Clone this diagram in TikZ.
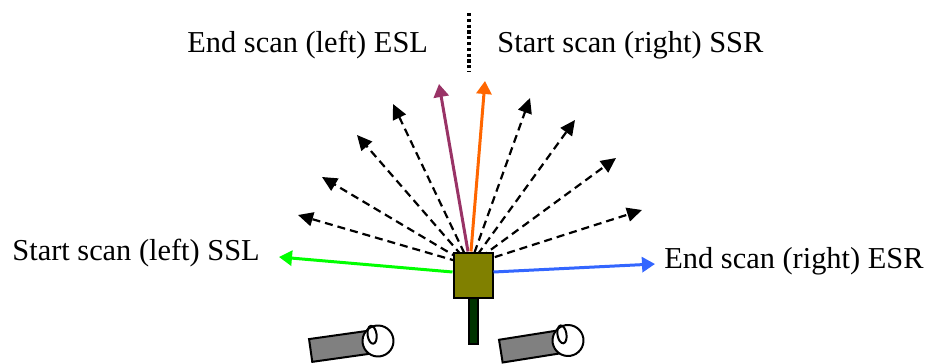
\documentclass[tikz,border=0pt]{standalone}
\usepackage{fontspec}
\setmainfont{Liberation Serif}
\usetikzlibrary{arrows.meta}
\definecolor{sslgreen}{RGB}{0,255,0}
\definecolor{esrblue}{RGB}{51,102,255}
\definecolor{eslpurple}{RGB}{153,51,102}
\definecolor{ssrorange}{RGB}{255,102,0}
\definecolor{headolive}{RGB}{128,128,0}
\definecolor{poledark}{RGB}{0,51,0}

\begin{document}
\begin{tikzpicture}[x=0.5pt,y=-0.5pt]
\tikzset{
  label/.style={inner sep=0pt, anchor=base west, font=\fontsize{15.2}{18}\selectfont},
  ray/.style={dashed, dash pattern=on 4pt off 2.5pt, line width=1.1pt, -{Triangle[length=7.5pt,width=7pt]}},
  scan/.style={line width=1.5pt, -{Triangle[length=6.5pt,width=7.5pt]}},
  head/.style={draw, line width=1pt, fill=headolive, inner sep=0pt, minimum width=19.5pt, minimum height=22.5pt}
}
\useasboundingbox (0,0) rectangle (933,364);
\clip (0,0) rectangle (933,364);

\node[label] (esl) at (187,53) {End scan (left) ESL};
\node[label] (ssr) at (497,53) {Start scan (right) SSR};
\node[label] (ssl) at (12,260) {Start scan (left) SSL};
\node[label] (esr) at (664,268) {End scan (right) ESR};

% divider between the two top labels
\coordinate (dtop) at (469,13);
\coordinate (dbot) at (469,72);
\draw[line width=1.8pt, dash pattern=on 1.6pt off 1.3pt] (dtop) -- (dbot);

% pole under the scanner head
\node[draw, line width=1pt, fill=poledark, inner sep=0pt, minimum width=4.3pt, minimum height=23pt] (pole) at (473.3,321) {};

% intermediate scan directions
\coordinate (o) at (470,265);
\coordinate (l1) at (298,215);
\coordinate (l2) at (322,177);
\coordinate (l3) at (357,135);
\coordinate (l4) at (393,104);
\coordinate (r1) at (530,98);
\coordinate (r2) at (575,120);
\coordinate (r3) at (616,158);
\coordinate (r4) at (642,210);
\foreach \to in {l1,l2,l3,l4,r1,r2,r3,r4}
{
	\draw[ray] (o) -- (\to);
}

\node[head] (cam) at (473,275) {};

\coordinate (sslTip) at (279,257);
\coordinate (esrTip) at (655,264);
\coordinate (eslTip) at (439,84);
\coordinate (ssrTip) at (485,81);
\draw[scan, sslgreen] ([yshift=1.5pt]cam.west) -- (sslTip);
\draw[scan, esrblue] ([yshift=1.5pt]cam.east) -- (esrTip);
\draw[scan, eslpurple] ([xshift=-2.5pt]cam.north) -- (eslTip);
\draw[scan, ssrorange] ([xshift=-1pt]cam.north) -- (ssrTip);

% the two cameras
\foreach \cx/\cy/\ang in {378/341/8, 568/340.5/9}
{
	\begin{scope}[shift={(\cx,\cy)}, rotate=\ang, line width=1pt]
		\draw[fill=gray] (-68,-11.5) rectangle (0,11.5);
		\draw[fill=white] (0,0) circle [radius=15.5];
		\draw (-5,-7) ellipse [x radius=4.5, y radius=9];
	\end{scope}
}
\end{tikzpicture}
\end{document}
